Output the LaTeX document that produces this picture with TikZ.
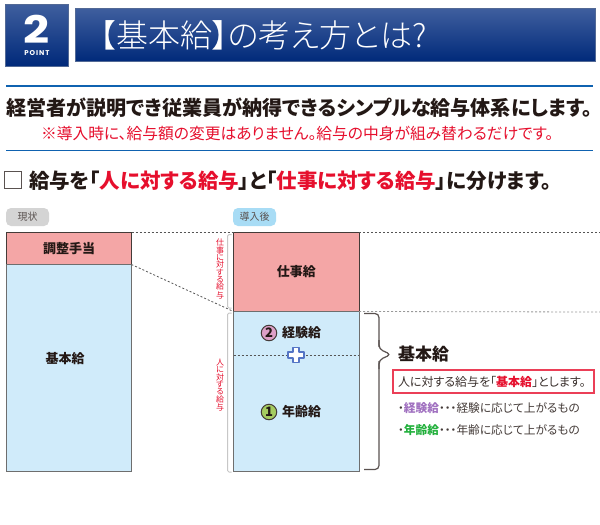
\documentclass[tikz,border=0pt]{standalone}
\usepackage{fontspec}
\setmainfont{Noto Sans CJK JP}[RawFeature=+palt]
\newfontfamily\lightjp{Noto Sans CJK JP Light}[RawFeature=+palt]
\newfontfamily\pop{Poppins}
\newfontfamily\popsp{Poppins}[LetterSpace=14]
\definecolor{ink}{HTML}{231815}
\definecolor{pinkbox}{HTML}{F4A6A6}
\definecolor{bluebox}{HTML}{D0EBFA}
\definecolor{navytop}{HTML}{3F5F9E}
\definecolor{navybot}{HTML}{00297A}
\definecolor{rulec}{HTML}{0F62B0}
\definecolor{redt}{HTML}{E60F2D}
\definecolor{edgec}{HTML}{6E6E6E}
\definecolor{dotc}{HTML}{555555}
\definecolor{pillblue}{HTML}{A8DCF5}
\definecolor{numpink}{HTML}{DDA0C8}
\definecolor{numgreen}{HTML}{A5CC60}
\definecolor{plusc}{HTML}{5575C5}
\definecolor{purpt}{HTML}{A070C0}
\definecolor{greent}{HTML}{22B03C}
\newcommand{\fs}[1]{\fontsize{#1}{#1}\selectfont}
\tikzset{
  x=1pt,y=-1pt,
  every node/.style={inner sep=0pt,outer sep=0pt,text=ink},
  banner/.style={anchor=north west,draw=navytop!70!gray,line width=0.8pt,top color=navytop,bottom color=navybot},
  hrule/.style={draw=rulec,line width=1.6pt},
  pinkcell/.style={anchor=north west,fill=pinkbox,draw=ink!85,line width=1pt},
  bluecell/.style={anchor=north west,fill=bluebox,draw=edgec,line width=1pt},
  celltext/.style={font=\fs{13}\bfseries},
  pill/.style={anchor=north west,rounded corners=5pt,minimum width=43pt,minimum height=18pt,font=\fs{10},text=ink!75},
  dotline/.style={draw=dotc,line width=0.8pt,dash pattern=on 2pt off 2pt},
  sidebr/.style={draw=black!22,line width=1pt,rounded corners=1.5pt},
  vlabel/.style={align=center,text=redt,font=\fontsize{8}{7.35}\selectfont},
  numc/.style={circle,draw=ink!85,line width=1pt,minimum size=15.5pt,font=\fs{13}\bfseries},
  itemt/.style={anchor=west,font=\fs{11.7},text=ink!85},
}
\begin{document}
\begin{tikzpicture}
\useasboundingbox (0,0) rectangle (600,525);
\fill[white] (0,0) rectangle (600,525);
% header
\node[banner,minimum width=63pt,minimum height=62pt] (badge) at (5.5,4) {};
\node[text=white,font=\pop\fs{38}\bfseries] (two) at (36.5,29) {\scalebox{1.2}[1]{2}};
\node[text=white,font=\popsp\fs{7}\bfseries] (point) at (37,53.5) {POINT};
\node[banner,minimum width=520pt,minimum height=53pt] (title) at (75,8.5) {};
\node[anchor=west,text=white,font=\lightjp\fs{32}] (titlet) at (100,35) {【基本給】の考え方とは?};
% rules
\coordinate (r1a) at (6,86); \coordinate (r1b) at (593,86);
\coordinate (r2a) at (6,150.5); \coordinate (r2b) at (593,150.5);
\draw[hrule] (r1a) -- (r1b);
\draw[hrule] (r2a) -- (r2b);
\node[anchor=west,font=\fs{20.1}\bfseries] (lead) at (6,108) {経営者が説明でき従業員が納得できるシンプルな給与体系にします。};
\node[anchor=west,text=redt,font=\fs{15.75}] (note) at (41,133) {※導入時に、給与額の変更はありません。給与の中身が組み替わるだけです。};
% subtitle
\node[anchor=north west,draw=ink!75,line width=1.2pt,minimum size=17pt] (check) at (4.5,171.5) {};
\node[anchor=west,font=\fs{20.5}\bfseries] (sub) at (29,181) {給与を「{\color{redt}人に対する給与}」と「{\color{redt}仕事に対する給与}」に分けます。};
% pills
\node[pill,fill=black!17] (now) at (6,208) {現状};
\node[pill,fill=pillblue] (after) at (233,208) {導入後};
% left column
\node[pinkcell,minimum width=125pt,minimum height=32pt,celltext] (adj) at (6.5,232.5) {調整手当};
\node[bluecell,minimum width=125pt,minimum height=207pt] (base) at (6.5,264.5) {};
\node[celltext] (baset) at (65,358.5) {基本給};
% right column
\node[pinkcell,minimum width=125.5pt,minimum height=79pt,celltext] (job) at (233.5,232.5) {仕事給};
\node[bluecell,minimum width=125.5pt,minimum height=160pt] (person) at (233.5,311.5) {};
\coordinate (splitL) at (233.5,355);
\coordinate (splitR) at (359,355);
\draw[dotline] (splitL) -- (splitR);
% plus
\draw[draw=plusc,fill=white,line width=1.1pt,line join=round]
 (293,347.5) -- (299,347.5) -- (299,352) -- (304,352) -- (304,358) -- (299,358) -- (299,362.5) -- (293,362.5) -- (293,358) -- (288,358) -- (288,352) -- (293,352) -- cycle;
\node[numc,fill=numpink] (n2) at (269,333) {2};
\node[anchor=west,font=\fs{13}\bfseries] (exp) at (282,333) {経験給};
\node[numc,fill=numgreen] (n1) at (269,412) {1};
\node[anchor=west,font=\fs{13}\bfseries] (age) at (282,412) {年齢給};
% dotted connectors
\coordinate (farA) at (600,232.5);
\coordinate (farB) at (600,312);
\draw[dotline] (adj.north east) -- (job.north west);
\draw[dotline] (adj.south east) -- (job.south west);
\draw[dotline] (job.north east) -- (farA);
\draw[dotline,draw=dotc!60] (job.south east) -- (farB);
% side brackets
\draw[sidebr] (231.5,234.5) -- (227.5,234.5) -- (227.5,308) -- (231.5,308);
\draw[sidebr] (231.5,313) -- (227.5,313) -- (227.5,472) -- (231.5,472);
\node[vlabel] (vjob) at (220,269) {仕\\事\\に\\対\\す\\る\\給\\与};
\node[vlabel] (vper) at (220,385) {人\\に\\対\\す\\る\\給\\与};
% brace
\draw[draw=ink!75,line width=1.2pt,rounded corners=4pt] (364,313.5) -- (379,313.5) -- (379,347);
\draw[draw=ink!75,line width=1.2pt,rounded corners=4pt] (379,340) -- (379,349) -- (391,354.5) -- (379,360) -- (379,369);
\draw[draw=ink!75,line width=1.2pt,rounded corners=4pt] (379,361) -- (379,469.5) -- (364,469.5);
% right text
\node[anchor=west,font=\fs{17}\bfseries] (kihon) at (398,354) {基本給};
\node[anchor=north west,draw=redt!80,line width=1.2pt,fill=white,minimum width=201pt,minimum height=23pt] (rbox) at (393,370) {};
\node[anchor=west,font=\fs{12},text=ink!90] (rboxt) at (398,381.5) {人に対する給与を「{\color{redt}\bfseries 基本給}」とします。};
\node[itemt] (i1) at (398,408) {・{\color{purpt}\bfseries 経験給}・・・経験に応じて上がるもの};
\node[itemt] (i2) at (398,430.5) {・{\color{greent}\bfseries 年齢給}・・・年齢に応じて上がるもの};
\end{tikzpicture}
\end{document}
